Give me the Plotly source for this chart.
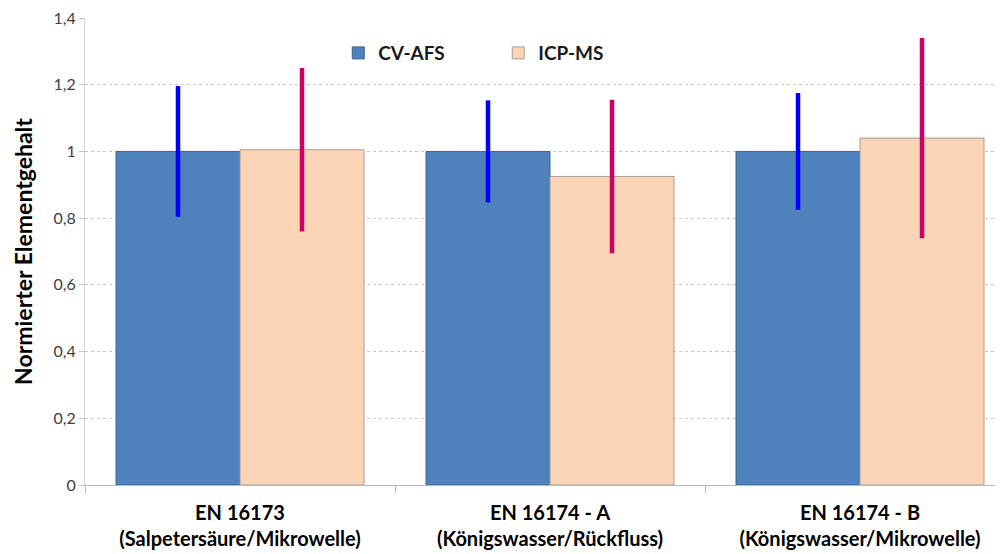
import plotly.graph_objects as go

categories = ["EN 16173<br>(Salpetersäure/Mikrowelle)",
              "EN 16174 - A<br>(Königswasser/Rückfluss)",
              "EN 16174 - B<br>(Königswasser/Mikrowelle)"]
cv_afs = [1.0, 1.0, 1.0]
cv_afs_err = [0.196, 0.153, 0.175]
icp_ms = [1.005, 0.925, 1.04]
icp_ms_err = [0.245, 0.23, 0.30]
y_ticks = [0, 0.2, 0.4, 0.6, 0.8, 1.0, 1.2, 1.4]
y_labels = ["0", "0,2", "0,4", "0,6", "0,8", "1", "1,2", "1,4"]

xpos = list(range(len(categories)))
FONT = "Lato"

fig = go.Figure()
fig.add_trace(go.Bar(
    x=xpos, y=cv_afs, name="<b>CV-AFS</b>",
    marker=dict(color="#4F81BD", line=dict(color="#3B6590", width=1)),
    error_y=dict(type="data", array=cv_afs_err, color="#0000FF", thickness=4.5, width=0),
))
fig.add_trace(go.Bar(
    x=xpos, y=icp_ms, name="<b>ICP-MS</b>",
    marker=dict(color="#FBD5B5", line=dict(color="#A89C94", width=1)),
    error_y=dict(type="data", array=icp_ms_err, color="#CC0066", thickness=4.5, width=0),
))

# the page body adds an 8px offset; margins compensate for it
fig.update_layout(
    width=1003, height=554,
    margin=dict(l=77, r=0, t=10, b=77),
    paper_bgcolor="white", plot_bgcolor="white",
    barmode="group", bargap=0.2, bargroupgap=0,
    font=dict(family=FONT, color="#404040"),
    showlegend=True,
    legend=dict(orientation="h", x=0.2735, y=0.925, xanchor="left", yanchor="middle",
                font=dict(size=19, color="#1A1A1A", family=FONT),
                itemwidth=30, tracegroupgap=0, entrywidth=115, entrywidthmode="pixels",
                bgcolor="rgba(0,0,0,0)"),
    xaxis=dict(
        range=[-0.5, 2.5 - 4 / 310],
        tickvals=xpos, ticktext=["<b>" + c.replace("<br>", "</b><br><b>") + "</b>" for c in categories],
        ticks="", showgrid=False, zeroline=False,
        showline=True, linecolor="#B8B8B8", linewidth=1,
        tickfont=dict(size=20, color="#000000", family=FONT),
        ticklabelstandoff=10,
        minor=dict(tick0=-0.5, dtick=1, ticks="outside", ticklen=7, tickcolor="#B8B8B8", showgrid=False),
    ),
    yaxis=dict(
        range=[0, 1.4],
        tickvals=y_ticks, ticktext=y_labels,
        ticks="outside", ticklen=5, tickcolor="#C0C0C0",
        ticklabeloverflow="allow",
        showgrid=True, gridcolor="#C8C8C8", griddash="dot", gridwidth=1,
        zeroline=False,
        showline=True, linecolor="#D0D0D0", linewidth=1,
        tickfont=dict(size=16, color="#404040", family=FONT),
        title=dict(text="<b>Normierter Elementgehalt</b>", font=dict(size=23, color="#000000", family=FONT), standoff=14),
    ),
)

fig.write_html("out.html")
